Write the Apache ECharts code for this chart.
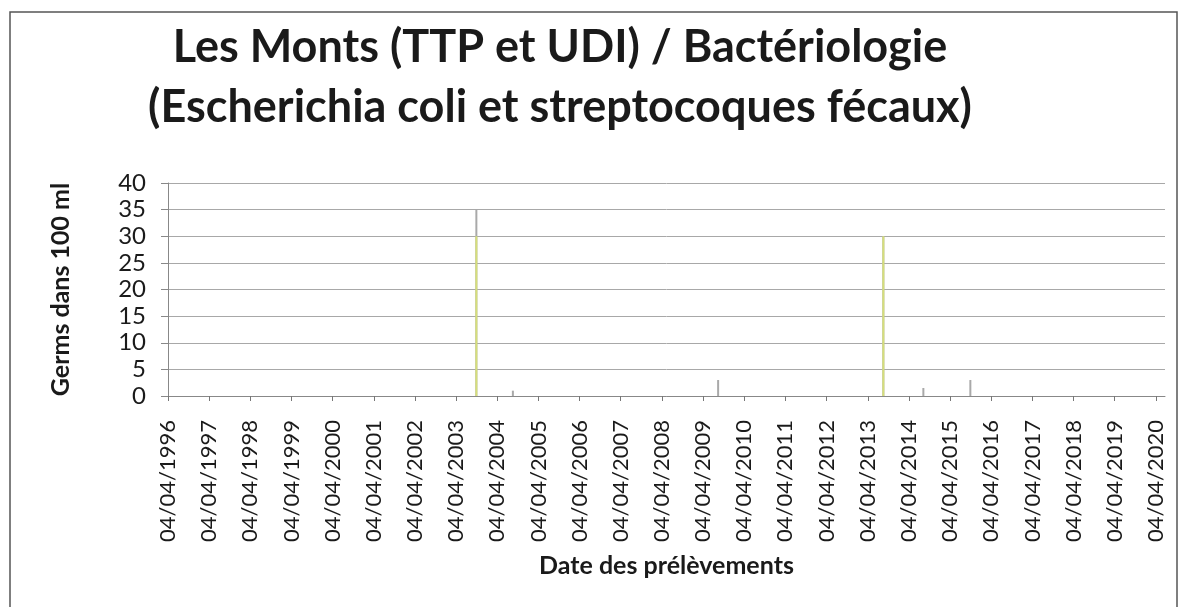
<!DOCTYPE html>
<html>
<head>
    <meta charset="utf-8" />
    <title>Les Monts - Bactériologie</title>
    <script src="https://cdn.jsdelivr.net/npm/echarts@6/dist/echarts.min.js"></script>
    <style>
        *{ margin:0; padding:0; }
        body{ background:#fff; }
        #main{ width:1181px; height:607px; }
    </style>
</head>
<body>
<div id="main"></div>
<script type="text/javascript">
    // dates des prélèvements non nuls
    var ecoliDates = ['2003-10-01', '2013-08-20'];
    var ecoliValues = [30, 30];
    var streptoDates = ['2003-10-01', '2004-08-20', '2009-08-15', '2013-08-20', '2014-08-10', '2015-10-01'];
    var streptoValues = [35, 1, 3, 30, 1.5, 3];

    // graduations de l'axe des dates
    var tickLabels = ['04/04/1996', '04/04/1997', '04/04/1998', '04/04/1999', '04/04/2000',
        '04/04/2001', '04/04/2002', '04/04/2003', '04/04/2004', '04/04/2005', '04/04/2006',
        '04/04/2007', '04/04/2008', '04/04/2009', '04/04/2010', '04/04/2011', '04/04/2012',
        '04/04/2013', '04/04/2014', '04/04/2015', '04/04/2016', '04/04/2017', '04/04/2018',
        '04/04/2019', '04/04/2020'];
    var yTicks = [0, 5, 10, 15, 20, 25, 30, 35, 40];

    function parseFr(s) {
        var p = s.split('/');
        return Date.UTC(+p[2], +p[1] - 1, +p[0]);
    }
    function parseIso(s) {
        var p = s.split('-');
        return Date.UTC(+p[0], +p[1] - 1, +p[2]);
    }
    var tickValues = tickLabels.map(parseFr);

    function pairs(dates, values) {
        return dates.map(function (d, i) { return [parseIso(d), values[i]]; });
    }

    var myChart = echarts.init(document.getElementById('main'));

    var option = {
        animation: false,
        textStyle: { fontFamily: 'Lato' },
        title: {
            text: 'Les Monts (TTP et UDI) / Bactériologie\n(Escherichia coli et streptocoques fécaux)',
            left: 555,
            top: 12,
            textAlign: 'center',
            textStyle: {
                fontFamily: 'Lato',
                fontWeight: 'bold',
                fontSize: 45,
                lineHeight: 60,
                color: '#1a1a1a'
            }
        },
        graphic: [{
            type: 'rect',
            shape: { x: 10, y: 12, width: 1167, height: 700 },
            style: { fill: 'none', stroke: '#555', lineWidth: 1.5 },
            silent: true
        }],
        grid: { left: 168, right: 16, top: 183, bottom: 211 },
        xAxis: {
            type: 'value',
            min: tickValues[0],
            max: Date.UTC(2020, 5, 23),
            name: 'Date des prélèvements',
            nameLocation: 'middle',
            nameGap: 157,
            nameTextStyle: { fontFamily: 'Lato', fontWeight: 'bold', fontSize: 25, color: '#1a1a1a' },
            axisLine: { show: true, onZero: false, lineStyle: { color: '#888', width: 1 } },
            axisTick: { show: true, inside: false, length: 5, customValues: tickValues, lineStyle: { color: '#777' } },
            axisLabel: {
                customValues: tickValues,
                rotate: 90,
                margin: 24,
                fontFamily: 'Lato',
                fontSize: 22,
                color: '#1a1a1a',
                formatter: function (v) {
                    var i = tickValues.indexOf(v);
                    return i >= 0 ? tickLabels[i] : '';
                }
            },
            splitLine: { show: false }
        },
        yAxis: {
            type: 'value',
            min: yTicks[0],
            max: yTicks[yTicks.length - 1],
            interval: 5,
            name: 'Germs dans 100 ml',
            nameLocation: 'middle',
            nameGap: 95,
            nameTextStyle: { fontFamily: 'Lato', fontWeight: 'bold', fontSize: 25, color: '#1a1a1a' },
            axisLine: { show: true, lineStyle: { color: '#888', width: 1 } },
            axisTick: { show: true, inside: false, length: 7, lineStyle: { color: '#888' } },
            axisLabel: { margin: 22, fontFamily: 'Lato', fontSize: 24, color: '#1a1a1a' },
            splitLine: { show: true, lineStyle: { color: '#a8a8a8', width: 1 } }
        },
        series: [{
            name: 'Streptocoques fécaux',
            type: 'bar',
            barWidth: 2,
            barGap: '-100%',
            itemStyle: { color: '#a9a9a9' },
            data: pairs(streptoDates, streptoValues)
        }, {
            name: 'Escherichia coli',
            type: 'bar',
            barWidth: 2,
            barGap: '-100%',
            itemStyle: { color: '#d6df7a' },
            data: pairs(ecoliDates, ecoliValues)
        }]
    };

    myChart.setOption(option);
</script>
</body>
</html>
